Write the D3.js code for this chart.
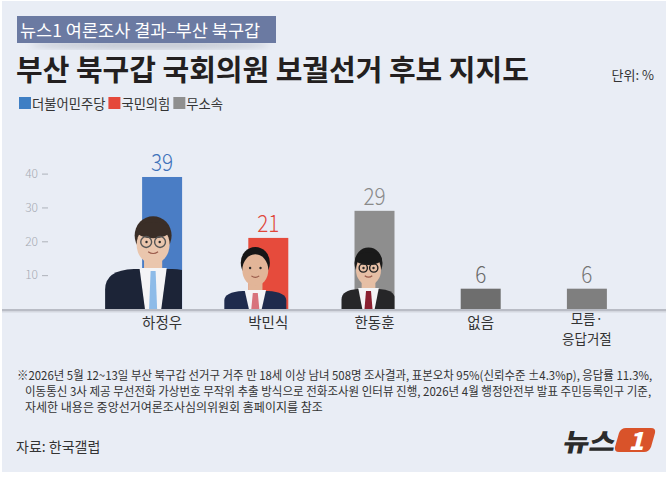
<!DOCTYPE html>
<html>
<head>
<meta charset="utf-8">
<script src="https://cdn.jsdelivr.net/npm/d3@7"></script>
<style>
  html, body { margin: 0; padding: 0; background: #fff; }
  svg { display: block; }
  text { font-family: "Noto Sans CJK KR", "Noto Sans", sans-serif; }
</style>
</head>
<body>
<svg id="chart" width="672" height="477"></svg>
<script>
// ---- data ----
var candidates = ["하정우", "박민식", "한동훈", "없음", "모름·응답거절"];
var support = [39, 21, 29, 6, 6];
var candidateLines = [["하정우"], ["박민식"], ["한동훈"], ["없음"], ["모름·", "응답거절"]];
var yTicks = [10, 20, 30, 40];
var legendNames = ["더불어민주당", "국민의힘", "무소속"];
var tagText = "뉴스1 여론조사 결과–부산 북구갑";
var titleText = "부산 북구갑 국회의원 보궐선거 후보 지지도";
var unitText = "단위: %";
var footnotes = [
    "※2026년 5월 12~13일 부산 북구갑 선거구 거주 만 18세 이상 남녀 508명 조사결과, 표본오차 95%(신뢰수준 ±4.3%p), 응답률 11.3%,",
    "이동통신 3사 제공 무선전화 가상번호 무작위 추출 방식으로 전화조사원 인터뷰 진행, 2026년 4월 행정안전부 발표 주민등록인구 기준,",
    "자세한 내용은 중앙선거여론조사심의위원회 홈페이지를 참조"
];
var sourceText = "자료: 한국갤럽";

// ---- styles ----
var barFill = ["#4a7dc5", "#e64b3c", "#8e8e8e", "#6e6e6e", "#7f7f7f"];
var labelFill = ["#3e72ba", "#e0473a", "#8a8a8a", "#6a6a6a", "#767676"];
var legendFill = ["#3f7fc4", "#e5493b", "#8f8f8f"];
var footW = [636, 627, 303];

var svg = d3.select("#chart");
var defs = svg.append("defs");

// squeeze a text horizontally to a given width (the original face is condensed)
function fitText(sel, x0, y0, width) {
    var len = sel.node().getComputedTextLength();
    var sx = Math.min(1, width / len);
    sel.attr("x", 0).attr("y", 0)
        .attr("transform", "translate(" + x0 + "," + y0 + ") scale(" + sx + ",1)");
}

// background panel with thin white frame
svg.append("rect").attr("x", 2).attr("y", 1).attr("width", 664).attr("height", 471).attr("fill", "#e9edf5");

// ---- header ----
defs.append("filter").attr("id", "soft").append("feGaussianBlur").attr("stdDeviation", 3);
svg.append("ellipse")
    .attr("cx", 150).attr("cy", 45).attr("rx", 120).attr("ry", 4)
    .attr("fill", "#9aa0ad").attr("opacity", 0.5)
    .attr("filter", "url(#soft)");
svg.append("rect")
    .attr("x", 17).attr("y", 16).attr("width", 259).attr("height", 27)
    .attr("fill", "#6b7aa2");
svg.append("text")
    .attr("x", 20).attr("y", 36.5)
    .attr("font-size", 17.5).attr("fill", "#fff")
    .text(tagText);

var title = svg.append("text")
    .attr("font-size", 29).attr("font-weight", 700).attr("fill", "#231f20")
    .text(titleText);
fitText(title, 16, 81, 513);

svg.append("text")
    .attr("x", 654).attr("y", 80)
    .attr("text-anchor", "end")
    .attr("font-size", 13).attr("fill", "#333")
    .text(unitText);

// legend
var lx = 19;
legendNames.forEach(function (name, i) {
    svg.append("rect")
        .attr("x", lx).attr("y", 97).attr("width", 12).attr("height", 12)
        .attr("fill", legendFill[i]);
    var t = svg.append("text")
        .attr("x", lx + 13).attr("y", 108.5)
        .attr("font-size", 13.3).attr("fill", "#333")
        .text(name);
    lx += 13 + t.node().getComputedTextLength() + 3;
});

// ---- chart ----
var x = d3.scaleBand()
    .domain(candidates)
    .range([109, 640])
    .paddingInner(0.6235)
    .paddingOuter(0.3118);
var y = d3.scaleLinear().domain([0, 40]).range([309, 173.6]);

var yAxis = svg.append("g")
    .attr("transform", "translate(48,0)")
    .call(d3.axisLeft(y).tickValues(yTicks).tickSize(6).tickPadding(4));
yAxis.select(".domain").remove();
yAxis.selectAll(".tick line").attr("stroke", "#aeb2ba");
yAxis.selectAll(".tick text")
    .attr("fill", "#a6aab3")
    .attr("font-size", 12)
    .attr("font-weight", 300)
    .style("font-family", '"Noto Sans CJK KR", "Noto Sans", sans-serif');

var bars = svg.append("g").attr("class", "bars");
candidates.forEach(function (c, i) {
    bars.append("rect")
        .attr("x", x(c))
        .attr("y", y(support[i]))
        .attr("width", x.bandwidth())
        .attr("height", y(0) - y(support[i]))
        .attr("fill", barFill[i]);
});

// candidate cut-outs (drawn shapes standing in for the photos)
var people = [
    { cat: "하정우", dx: 11, halfW: 48, suitH: 39, faceY: 67, rx: 16.5, ry: 21.5, hair: "#3a2e27", suit: "#1c2437", tie: "#8dbbe8", skin: "#eac6ad", glasses: "#555", fringe: true },
    { cat: "박민식", dx: 7, halfW: 31, suitH: 17, faceY: 41, rx: 13, ry: 17.5, hair: "#161616", suit: "#1f2b4d", tie: "#d8737c", skin: "#e2b598", glasses: null, fringe: false },
    { cat: "한동훈", dx: 14, halfW: 27, suitH: 19, faceY: 41, rx: 12.5, ry: 17, hair: "#1a1a1a", suit: "#262628", tie: "#8a1f2f", skin: "#e6bfa5", glasses: "#222", fringe: true }
];

function drawPerson(g, p, id) {
    var bx = x(p.cat), bw = x.bandwidth(), base = y(0);
    var cx = bx + p.dx;
    defs.append("clipPath").attr("id", "clip" + id).append("rect")
        .attr("x", cx - 90).attr("y", 150)
        .attr("width", bx + bw - (cx - 90)).attr("height", base - 150);
    var pg = g.append("g").attr("clip-path", "url(#clip" + id + ")");
    var sh = base - p.suitH, w = p.halfW, nw = p.rx * 0.55;
    var cy = base - p.faceY;

    // neck
    pg.append("rect")
        .attr("x", cx - nw).attr("y", cy + p.ry * 0.5)
        .attr("width", nw * 2).attr("height", sh - cy - p.ry * 0.5 + 4)
        .attr("fill", p.skin);
    // suit
    pg.append("path")
        .attr("d", "M" + (cx - w) + "," + base +
            " L" + (cx - w) + "," + (sh + p.suitH * 0.5) +
            " Q" + (cx - w) + "," + sh + " " + (cx - w * 0.4) + "," + (sh - 1) +
            " L" + (cx + w * 0.4) + "," + (sh - 1) +
            " Q" + (cx + w) + "," + sh + " " + (cx + w) + "," + (sh + p.suitH * 0.5) +
            " L" + (cx + w) + "," + base + "Z")
        .attr("fill", p.suit);
    // shirt
    pg.append("path")
        .attr("d", "M" + (cx - nw * 1.5) + "," + (sh - 2) +
            " L" + (cx + nw * 1.5) + "," + (sh - 2) +
            " L" + (cx + nw * 0.9) + "," + base +
            " L" + (cx - nw * 0.9) + "," + base + "Z")
        .attr("fill", "#f4f4f6");
    // tie
    pg.append("path")
        .attr("d", "M" + (cx - 2.5) + "," + (sh + 1) +
            " L" + (cx + 2.5) + "," + (sh + 1) +
            " L" + (cx + 4) + "," + base +
            " L" + (cx - 4) + "," + base + "Z")
        .attr("fill", p.tie);
    // hair behind, face, fringe
    pg.append("ellipse")
        .attr("cx", cx).attr("cy", cy - p.ry * 0.3)
        .attr("rx", p.rx * 1.12).attr("ry", p.ry * 0.9)
        .attr("fill", p.hair);
    pg.append("ellipse")
        .attr("cx", cx).attr("cy", cy + p.ry * 0.12)
        .attr("rx", p.rx).attr("ry", p.ry * 0.9)
        .attr("fill", p.skin);
    if (p.fringe) {
        pg.append("ellipse")
            .attr("cx", cx).attr("cy", cy - p.ry * 0.55)
            .attr("rx", p.rx * 1.02).attr("ry", p.ry * 0.38)
            .attr("fill", p.hair);
    }
    // eyes, mouth
    [-1, 1].forEach(function (s) {
        pg.append("circle")
            .attr("cx", cx + s * p.rx * 0.4).attr("cy", cy)
            .attr("r", 1.2).attr("fill", "#2a2a2a");
        if (p.glasses) {
            pg.append("circle")
                .attr("cx", cx + s * p.rx * 0.42).attr("cy", cy)
                .attr("r", p.rx * 0.33)
                .attr("fill", "none").attr("stroke", p.glasses).attr("stroke-width", 1.4);
        }
    });
    pg.append("path")
        .attr("d", "M" + (cx - p.rx * 0.3) + "," + (cy + p.ry * 0.45) +
            " Q" + cx + "," + (cy + p.ry * 0.62) + " " + (cx + p.rx * 0.3) + "," + (cy + p.ry * 0.45))
        .attr("fill", "none").attr("stroke", "#9a5a4a").attr("stroke-width", 1.2);
}

var photoLayer = svg.append("g").attr("class", "photos");
people.forEach(function (p, i) { drawPerson(photoLayer, p, i); });

// baseline
svg.append("rect").attr("x", 2).attr("y", y(0)).attr("width", 664).attr("height", 2).attr("fill", "#b9bcc5");
svg.append("rect").attr("x", 2).attr("y", y(0) + 2).attr("width", 664).attr("height", 1.5).attr("fill", "#d4d7df");

// value labels
candidates.forEach(function (c, i) {
    var t = svg.append("text")
        .attr("text-anchor", "middle")
        .attr("font-size", 23).attr("font-weight", 300)
        .attr("fill", labelFill[i])
        .text(support[i]);
    t.attr("x", 0).attr("y", 0)
        .attr("transform", "translate(" + (x(c) + x.bandwidth() / 2) + "," + (y(support[i]) - 6) + ") scale(0.9,1)");
});

// category labels, one text per line
candidates.forEach(function (c, i) {
    var two = candidateLines[i].length > 1;
    candidateLines[i].forEach(function (line, j) {
        svg.append("text")
            .attr("x", x(c) + x.bandwidth() / 2)
            .attr("y", two ? 323.5 + j * 20 : 328)
            .attr("text-anchor", "middle")
            .attr("font-size", two ? 13.5 : 14.5).attr("fill", "#333")
            .text(line);
    });
});

// ---- footer ----
footnotes.forEach(function (line, i) {
    var t = svg.append("text")
        .attr("font-size", 12).attr("fill", "#333")
        .text(line);
    fitText(t, i == 0 ? 17 : 25, 380 + i * 16, footW[i]);
});

svg.append("text")
    .attr("x", 16).attr("y", 452)
    .attr("font-size", 14).attr("fill", "#333")
    .text(sourceText);

// news1 logo
var logo = svg.append("g").attr("class", "logo");
logo.append("text")
    .attr("x", 0).attr("y", 0)
    .attr("transform", "translate(562,451) skewX(-12)")
    .attr("font-size", 25).attr("font-weight", 900).attr("fill", "#2b2b2b")
    .attr("textLength", 52).attr("lengthAdjust", "spacingAndGlyphs")
    .text("뉴스");
logo.append("path")
    .attr("d", "M626,428 L651,428 Q656,428 655,433 L651,447 Q649,452 644,452 L619,452 Q614,452 615,447 L619,433 Q621,428 626,428 Z")
    .attr("fill", "#d9532a");
logo.append("text")
    .attr("x", 0).attr("y", 0)
    .attr("transform", "translate(636,450) skewX(-14)")
    .attr("text-anchor", "middle")
    .attr("font-size", 25).attr("font-weight", 900).attr("fill", "#fff")
    .text("1");
</script>
</body>
</html>
